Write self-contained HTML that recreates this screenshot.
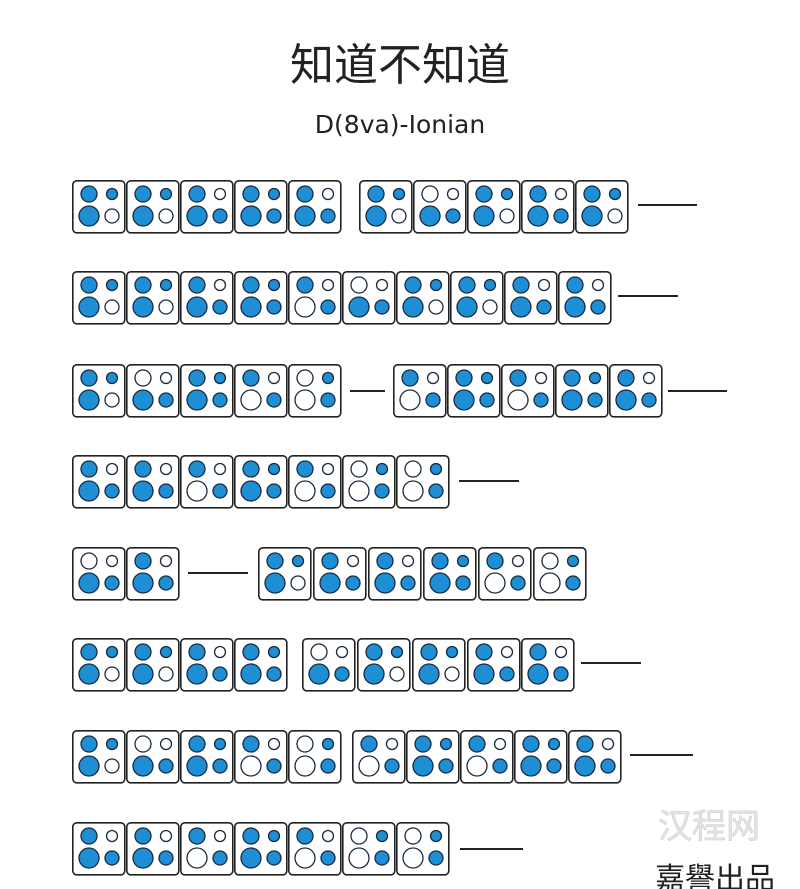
<!DOCTYPE html>
<html><head><meta charset="utf-8"><style>
html,body{margin:0;padding:0;background:#fff;}
svg{display:block;}
</style></head><body>
<svg width="800" height="889" viewBox="0 0 800 889" xmlns="http://www.w3.org/2000/svg">
<defs>
<g id="box"><rect x="0.8" y="0.8" width="52" height="52" rx="4" fill="#fff" stroke="#222" stroke-width="1.6"/></g>
<g id="p1110" stroke="#1a2a40" stroke-width="1.3"><use href="#box"/><circle cx="17" cy="14" r="8" fill="#1e8fd5"/><circle cx="40" cy="14" r="5.5" fill="#1e8fd5"/><circle cx="17" cy="36" r="10" fill="#1e8fd5"/><circle cx="40" cy="36" r="7" fill="#fff"/></g>
<g id="p1011" stroke="#1a2a40" stroke-width="1.3"><use href="#box"/><circle cx="17" cy="14" r="8" fill="#1e8fd5"/><circle cx="40" cy="14" r="5.5" fill="#fff"/><circle cx="17" cy="36" r="10" fill="#1e8fd5"/><circle cx="40" cy="36" r="7" fill="#1e8fd5"/></g>
<g id="p1111" stroke="#1a2a40" stroke-width="1.3"><use href="#box"/><circle cx="17" cy="14" r="8" fill="#1e8fd5"/><circle cx="40" cy="14" r="5.5" fill="#1e8fd5"/><circle cx="17" cy="36" r="10" fill="#1e8fd5"/><circle cx="40" cy="36" r="7" fill="#1e8fd5"/></g>
<g id="p1001" stroke="#1a2a40" stroke-width="1.3"><use href="#box"/><circle cx="17" cy="14" r="8" fill="#1e8fd5"/><circle cx="40" cy="14" r="5.5" fill="#fff"/><circle cx="17" cy="36" r="10" fill="#fff"/><circle cx="40" cy="36" r="7" fill="#1e8fd5"/></g>
<g id="p0011" stroke="#1a2a40" stroke-width="1.3"><use href="#box"/><circle cx="17" cy="14" r="8" fill="#fff"/><circle cx="40" cy="14" r="5.5" fill="#fff"/><circle cx="17" cy="36" r="10" fill="#1e8fd5"/><circle cx="40" cy="36" r="7" fill="#1e8fd5"/></g>
<g id="p0101" stroke="#1a2a40" stroke-width="1.3"><use href="#box"/><circle cx="17" cy="14" r="8" fill="#fff"/><circle cx="40" cy="14" r="5.5" fill="#1e8fd5"/><circle cx="17" cy="36" r="10" fill="#fff"/><circle cx="40" cy="36" r="7" fill="#1e8fd5"/></g>
</defs>

<text x="400" y="80" text-anchor="middle" font-family="'Noto Sans CJK SC','WenQuanYi Zen Hei',sans-serif" font-size="44" fill="#222">知道不知道</text>
<text x="400" y="133" text-anchor="middle" font-family="'DejaVu Sans','Liberation Sans',sans-serif" font-size="25" fill="#222">D(8va)-Ionian</text>

<g stroke="#222" stroke-width="2">
<line x1="638" y1="205" x2="697" y2="205"/>
<line x1="618" y1="296" x2="678" y2="296"/>
<line x1="350" y1="391" x2="385" y2="391"/>
<line x1="668" y1="391" x2="727" y2="391"/>
<line x1="459" y1="481" x2="519" y2="481"/>
<line x1="188" y1="573" x2="248" y2="573"/>
<line x1="581" y1="663" x2="641" y2="663"/>
<line x1="630" y1="755" x2="693" y2="755"/>
<line x1="460" y1="849" x2="523" y2="849"/>
</g>

<!-- Row 1 -->
<use href="#p1110" x="72" y="180"/><use href="#p1110" x="126" y="180"/><use href="#p1011" x="180" y="180"/><use href="#p1111" x="234" y="180"/><use href="#p1011" x="288" y="180"/>
<use href="#p1110" x="359" y="180"/><use href="#p0011" x="413" y="180"/><use href="#p1110" x="467" y="180"/><use href="#p1011" x="521" y="180"/><use href="#p1110" x="575" y="180"/>
<!-- Row 2 -->
<use href="#p1110" x="72" y="271"/><use href="#p1110" x="126" y="271"/><use href="#p1011" x="180" y="271"/><use href="#p1111" x="234" y="271"/><use href="#p1001" x="288" y="271"/><use href="#p0011" x="342" y="271"/><use href="#p1110" x="396" y="271"/><use href="#p1110" x="450" y="271"/><use href="#p1011" x="504" y="271"/><use href="#p1011" x="558" y="271"/>
<!-- Row 3 -->
<use href="#p1110" x="72" y="364"/><use href="#p0011" x="126" y="364"/><use href="#p1111" x="180" y="364"/><use href="#p1001" x="234" y="364"/><use href="#p0101" x="288" y="364"/>
<use href="#p1001" x="393" y="364"/><use href="#p1111" x="447" y="364"/><use href="#p1001" x="501" y="364"/><use href="#p1111" x="555" y="364"/><use href="#p1011" x="609" y="364"/>
<!-- Row 4 -->
<use href="#p1011" x="72" y="455"/><use href="#p1011" x="126" y="455"/><use href="#p1001" x="180" y="455"/><use href="#p1111" x="234" y="455"/><use href="#p1001" x="288" y="455"/><use href="#p0101" x="342" y="455"/><use href="#p0101" x="396" y="455"/>
<!-- Row 5 -->
<use href="#p0011" x="72" y="547"/><use href="#p1011" x="126" y="547"/>
<use href="#p1110" x="258" y="547"/><use href="#p1011" x="313" y="547"/><use href="#p1011" x="368" y="547"/><use href="#p1111" x="423" y="547"/><use href="#p1001" x="478" y="547"/><use href="#p0101" x="533" y="547"/>
<!-- Row 6 -->
<use href="#p1110" x="72" y="638"/><use href="#p1110" x="126" y="638"/><use href="#p1011" x="180" y="638"/><use href="#p1111" x="234" y="638"/>
<use href="#p0011" x="302" y="638"/><use href="#p1110" x="357" y="638"/><use href="#p1110" x="412" y="638"/><use href="#p1011" x="467" y="638"/><use href="#p1011" x="521" y="638"/>
<!-- Row 7 -->
<use href="#p1110" x="72" y="730"/><use href="#p0011" x="126" y="730"/><use href="#p1111" x="180" y="730"/><use href="#p1001" x="234" y="730"/><use href="#p0101" x="288" y="730"/>
<use href="#p1001" x="352" y="730"/><use href="#p1111" x="406" y="730"/><use href="#p1001" x="460" y="730"/><use href="#p1111" x="514" y="730"/><use href="#p1011" x="568" y="730"/>
<!-- Row 8 -->
<use href="#p1011" x="72" y="822"/><use href="#p1011" x="126" y="822"/><use href="#p1001" x="180" y="822"/><use href="#p1111" x="234" y="822"/><use href="#p1001" x="288" y="822"/><use href="#p0101" x="342" y="822"/><use href="#p0101" x="396" y="822"/>

<text x="760" y="838" text-anchor="end" font-family="'Noto Sans CJK SC',sans-serif" font-size="34" fill="#e4e4e4" stroke="#cfcfcf" stroke-width="0.6">汉程网</text>
<text x="655" y="889" font-family="'Noto Sans CJK TC','Noto Sans CJK SC',sans-serif" font-size="30" fill="#222">嘉譽出品</text>
</svg>
</body></html>
